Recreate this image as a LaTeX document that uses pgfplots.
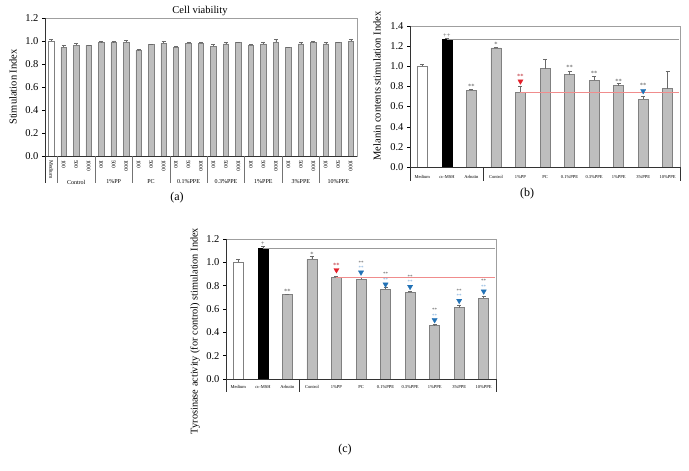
\documentclass[border=0pt]{standalone}
\usepackage{fontspec}
\setmainfont{Liberation Serif}
\usepackage{pgfplots}
\pgfplotsset{compat=1.18}

\definecolor{barfill}{HTML}{BEBEBE}
\definecolor{baredge}{HTML}{808080}
\definecolor{errc}{HTML}{6A6A6A}
\definecolor{triRed}{HTML}{E3202A}
\definecolor{triBlue}{HTML}{2272B6}
\definecolor{astBlue}{HTML}{6FA3D6}
\definecolor{refRed}{HTML}{F08C8C}
\definecolor{astc}{HTML}{505050}

\pgfplotsset{
  panel/.style={
    scale only axis, ymin=0, clip=false, enlargelimits=false,
    tick align=outside, ytick pos=left,
    xtick style={draw=none},
    ytick style={black, line width=0.4pt},
    major tick length=3pt,
    axis line style={gray!75, line width=0.5pt},
    tick label style={font=\fontsize{10.5}{12}\selectfont},
    yticklabel style={/pgf/number format/fixed, /pgf/number format/fixed zerofill, /pgf/number format/precision=1},
    /pgf/number format/assume math mode=true,
  },
  bars/.style={ybar, bar shift=0pt, draw=baredge, line width=0.6pt,
    error bars/y dir=plus, error bars/y explicit,
    error bars/error bar style={errc, line width=0.5pt},
    error bars/error mark options={errc, rotate=90, mark size=2pt, line width=0.5pt}},
  barG/.style={bars, fill=barfill},
  barW/.style={bars, fill=white},
  barK/.style={bars, fill=black, draw=black},
}
\tikzset{ast/.style={font=\fontsize{6.5}{7}\selectfont, text=astc, inner sep=0pt},
  ast2/.style={font=\fontsize{5}{5.7}\selectfont, text=astc, inner sep=0pt, align=center},
  grp/.style={font=\fontsize{6}{7}\selectfont, inner sep=0pt},
  capt/.style={font=\fontsize{12}{13}\selectfont}}

\begin{document}
\begin{tikzpicture}
\path (0pt,0pt) rectangle (689pt,471pt);

% ---------- (a) cell viability
\begin{axis}[panel, at={(45pt,315pt)}, anchor=south west, width=312pt, height=138pt,
  xmin=-0.5, xmax=24.5, ymax=1.2, ytick={0,0.2,0.4,0.6,0.8,1.0,1.2},
  xtick={0,...,24},
  xticklabels={Medium,100,500,1000,100,500,1000,100,500,1000,100,500,1000,100,500,1000,100,500,1000,100,500,1000,100,500,1000},
  x tick label style={rotate=-90, anchor=west, font=\fontsize{5.5}{6}\selectfont, inner sep=1pt}]
\addplot[barW, bar width=5.5pt] coordinates {(0,1.000) +- (0,0.015)};
\addplot[barG, bar width=5.5pt] coordinates {
  (1,0.947) +- (0,0.012) (2,0.965) +- (0,0.015) (3,0.962) +- (0,0.004)
  (4,0.991) +- (0,0.004) (5,0.985) +- (0,0.010) (6,0.991) +- (0,0.012)
  (7,0.921) +- (0,0.003) (8,0.971) +- (0,0.005) (9,0.982) +- (0,0.014)
  (10,0.947) +- (0,0.010) (11,0.979) +- (0,0.008) (12,0.982) +- (0,0.006)
  (13,0.953) +- (0,0.015) (14,0.974) +- (0,0.012) (15,0.985) +- (0,0.008)
  (16,0.965) +- (0,0.008) (17,0.974) +- (0,0.014) (18,0.991) +- (0,0.020)
  (19,0.944) +- (0,0.003) (20,0.974) +- (0,0.012) (21,0.991) +- (0,0.004)
  (22,0.974) +- (0,0.012) (23,0.985) +- (0,0.008) (24,0.997) +- (0,0.015)};
\draw[black!80] (axis cs:-0.5,1.2) -- (axis cs:-0.5,0) -- (axis cs:24.5,0);
\draw[black!80] (axis cs:-0.5,0) -- ++(0pt,-27pt);
\draw[black!55] (axis cs:0.5,0) -- ++(0pt,-27pt);
\draw[black!55] (axis cs:3.5,0) -- ++(0pt,-27pt);
\draw[black!55] (axis cs:6.5,0) -- ++(0pt,-27pt);
\draw[black!55] (axis cs:9.5,0) -- ++(0pt,-27pt);
\draw[black!55] (axis cs:12.5,0) -- ++(0pt,-27pt);
\draw[black!55] (axis cs:15.5,0) -- ++(0pt,-27pt);
\draw[black!55] (axis cs:18.5,0) -- ++(0pt,-27pt);
\draw[black!55] (axis cs:21.5,0) -- ++(0pt,-27pt);
\node[grp] at (axis cs:2,0) [yshift=-26pt] {Control};
\node[grp] at (axis cs:5,0) [yshift=-26pt] {1\%PP};
\node[grp] at (axis cs:8,0) [yshift=-26pt] {PC};
\node[grp] at (axis cs:11,0) [yshift=-26pt] {0.1\%PPE};
\node[grp] at (axis cs:14,0) [yshift=-26pt] {0.3\%PPE};
\node[grp] at (axis cs:17,0) [yshift=-26pt] {1\%PPE};
\node[grp] at (axis cs:20,0) [yshift=-26pt] {3\%PPE};
\node[grp] at (axis cs:23,0) [yshift=-26pt] {10\%PPE};
\end{axis}
\node[font=\fontsize{10.5}{12}\selectfont] at (200pt,460pt) {Cell viability};
\node[rotate=90, font=\fontsize{10.5}{12}\selectfont] at (13pt,384pt) {Stimulation Index};
\node[capt] at (177pt,273pt) {(a)};

% ---------- (b) melanin contents
\begin{axis}[panel, at={(410pt,304pt)}, anchor=south west, width=270pt, height=141pt,
  xmin=-0.5, xmax=10.5, ymax=1.4, ytick={0,0.2,0.4,0.6,0.8,1.0,1.2,1.4},
  xtick={0,...,10},
  xticklabels={Medium,$\alpha$-MSH,Arbutin,Control,1\%PP,PC,0.1\%PPE,0.3\%PPE,1\%PPE,3\%PPE,10\%PPE},
  x tick label style={font=\fontsize{4.5}{5}\selectfont, yshift=-2pt}]
\addplot[barW, bar width=10pt] coordinates {(0,1.000) +- (0,0.020)};
\addplot[barK, bar width=10pt] coordinates {(1,1.264) +- (0,0.012)};
\addplot[barG, bar width=10pt] coordinates {
  (2,0.762) +- (0,0.008) (3,1.182) +- (0,0.010) (4,0.742) +- (0,0.058)
  (5,0.977) +- (0,0.089) (6,0.917) +- (0,0.037) (7,0.861) +- (0,0.040)
  (8,0.808) +- (0,0.020) (9,0.673) +- (0,0.027) (10,0.778) +- (0,0.170)};
\addplot[gray!80, line width=0.7pt, no marks] coordinates {(1,1.264) (10.45,1.264)};
\addplot[refRed, line width=0.6pt, no marks] coordinates {(4,0.742) (10.45,0.742)};
\addplot[only marks, mark=triangle*, mark size=3pt, mark options={rotate=180, fill=triRed, draw=triRed}] coordinates {(4,0.851)};
\addplot[only marks, mark=triangle*, mark size=3pt, mark options={rotate=180, fill=triBlue, draw=triBlue}] coordinates {(9,0.755)};
\node[ast] at (axis cs:1,1.307) {++};
\node[ast] at (axis cs:2,0.800) {**};
\node[ast] at (axis cs:3,1.218) {*};
\node[ast, text=triRed!80!black] at (axis cs:4,0.900) {**};
\node[ast] at (axis cs:6,0.993) {**};
\node[ast] at (axis cs:7,0.934) {**};
\node[ast] at (axis cs:8,0.854) {**};
\node[ast] at (axis cs:9,0.810) {**};
\draw[black!80] (axis cs:-0.5,1.4) -- (axis cs:-0.5,0) -- (axis cs:10.5,0);
\draw[black!80] (axis cs:-0.5,0) -- ++(0pt,-14pt);
\draw[black!80] (axis cs:2.5,0) -- ++(0pt,-14pt);
\draw[black!80] (axis cs:10.5,0) -- ++(0pt,-14pt);
\end{axis}
\node[rotate=90, font=\fontsize{10.5}{12}\selectfont] at (377pt,385pt) {Melanin contents stimulation Index};
\node[capt] at (527pt,277pt) {(b)};

% ---------- (c) tyrosinase activity
\begin{axis}[panel, at={(226pt,92pt)}, anchor=south west, width=270pt, height=140pt,
  xmin=-0.5, xmax=10.5, ymax=1.2, ytick={0,0.2,0.4,0.6,0.8,1.0,1.2},
  xtick={0,...,10},
  xticklabels={Medium,$\alpha$-MSH,Arbutin,Control,1\%PP,PC,0.1\%PPE,0.3\%PPE,1\%PPE,3\%PPE,10\%PPE},
  x tick label style={font=\fontsize{4.5}{5}\selectfont, yshift=0pt}]
\addplot[barW, bar width=10pt] coordinates {(0,1.000) +- (0,0.026)};
\addplot[barK, bar width=10pt] coordinates {(1,1.117) +- (0,0.017)};
\addplot[barG, bar width=10pt] coordinates {
  (2,0.726) +- (0,0.004) (3,1.026) +- (0,0.023) (4,0.871) +- (0,0.011)
  (5,0.857) +- (0,0.014) (6,0.771) +- (0,0.015) (7,0.743) +- (0,0.009)
  (8,0.457) +- (0,0.014) (9,0.611) +- (0,0.020) (10,0.694) +- (0,0.017)};
\addplot[gray!80, line width=0.7pt, no marks] coordinates {(1,1.117) (10.45,1.117)};
\addplot[refRed, line width=0.6pt, no marks] coordinates {(4,0.871) (10.45,0.871)};
\addplot[only marks, mark=triangle*, mark size=3pt, mark options={rotate=180, fill=triRed, draw=triRed}] coordinates {(4,0.934)};
\addplot[only marks, mark=triangle*, mark size=3pt, mark options={rotate=180, fill=triBlue, draw=triBlue}] coordinates {
  (5,0.914) (6,0.811) (7,0.791) (8,0.506) (9,0.671) (10,0.751)};
\node[ast] at (axis cs:1,1.163) {+};
\node[ast] at (axis cs:2,0.754) {**};
\node[ast] at (axis cs:3,1.071) {*};
\node[ast, text=triRed!80!black] at (axis cs:4,0.977) {**};
\node[ast2] at (axis cs:5,0.975) {**\\\textcolor{astBlue}{**}};
\node[ast2] at (axis cs:6,0.877) {**\\\textcolor{astBlue}{**}};
\node[ast2] at (axis cs:7,0.854) {**\\\textcolor{astBlue}{**}};
\node[ast2] at (axis cs:8,0.568) {**\\\textcolor{astBlue}{**}};
\node[ast2] at (axis cs:9,0.734) {**\\\textcolor{astBlue}{**}};
\node[ast2] at (axis cs:10,0.814) {**\\\textcolor{astBlue}{**}};
\draw[black!80] (axis cs:-0.5,1.2) -- (axis cs:-0.5,0) -- (axis cs:10.5,0);
\draw[black!80] (axis cs:-0.5,0) -- ++(0pt,-13pt);
\draw[black!80] (axis cs:2.5,0) -- ++(0pt,-13pt);
\draw[black!80] (axis cs:10.5,0) -- ++(0pt,-13pt);
\end{axis}
\node[rotate=90, font=\fontsize{10.3}{12}\selectfont] at (195pt,140pt) {Tyrosinase activity (for control) stimulation Index};
\node[capt] at (345pt,21pt) {(c)};
\end{tikzpicture}
\end{document}
